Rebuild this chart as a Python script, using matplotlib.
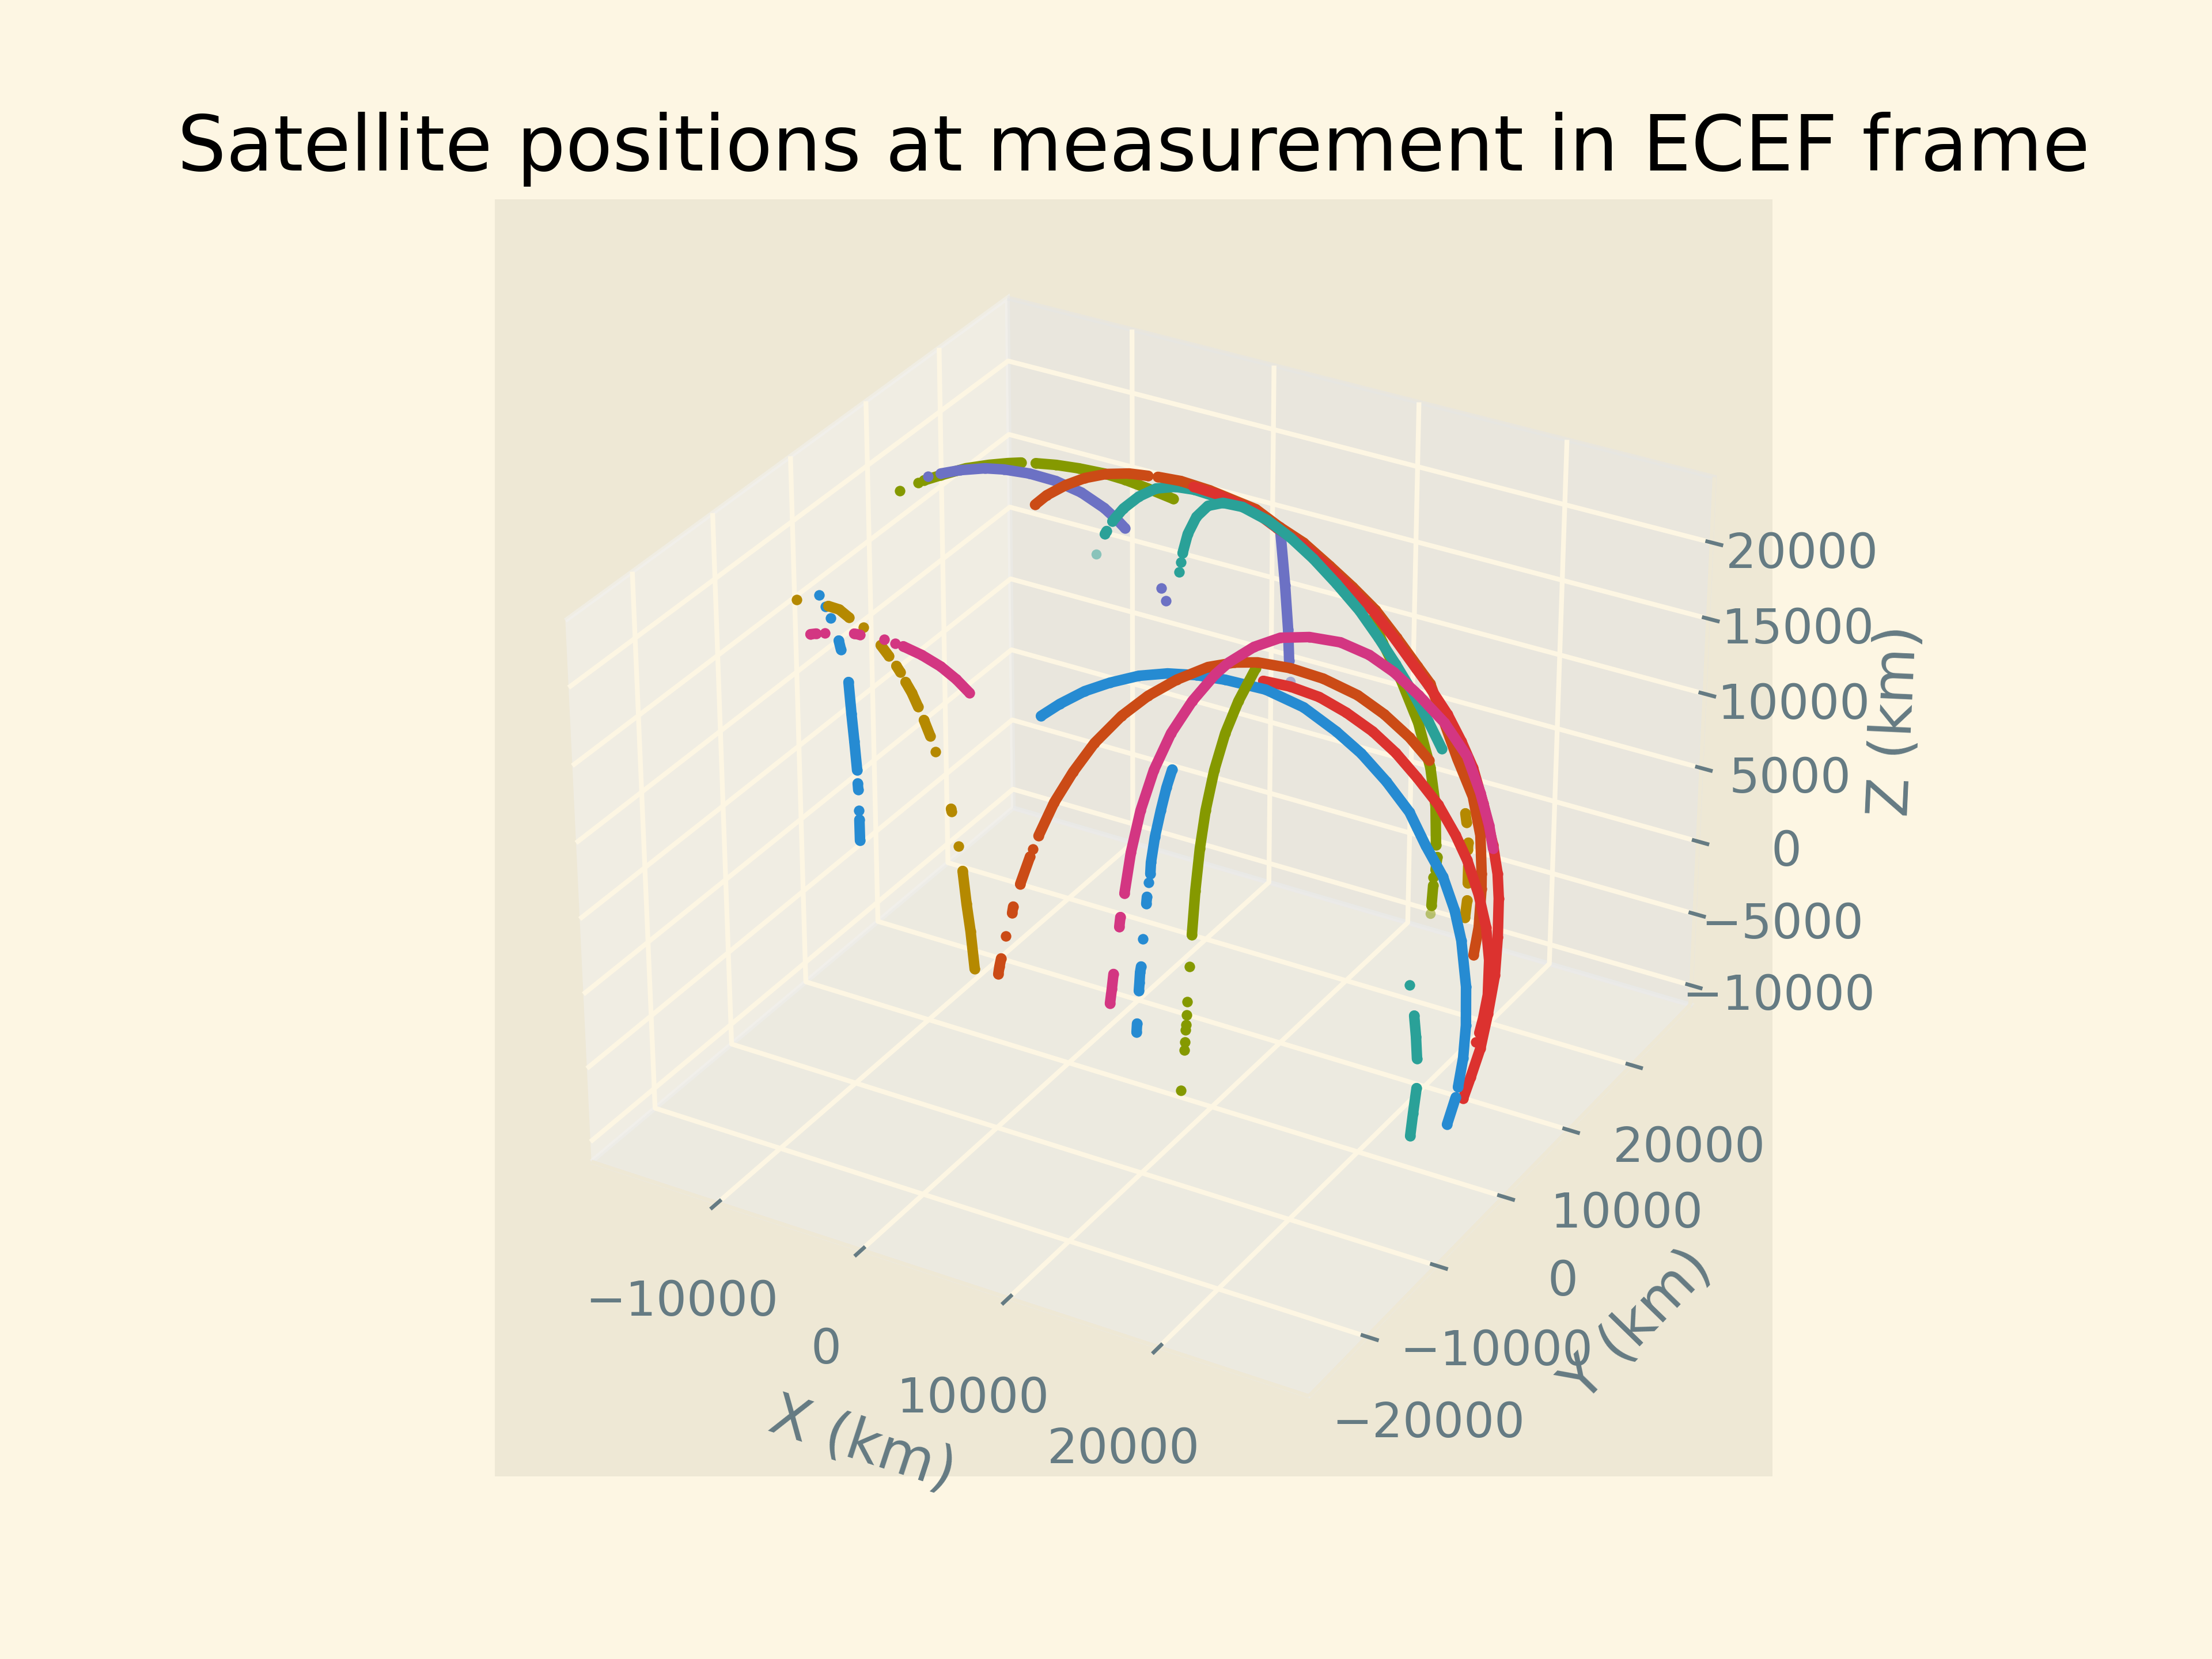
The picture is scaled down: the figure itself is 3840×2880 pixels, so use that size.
import matplotlib
matplotlib.use('Agg')
import matplotlib.pyplot as plt
import numpy as np

plt.style.use('Solarize_Light2')

UNIT_KM = 10  # positions below are in units of 10 km
_ = None      # break between measurement runs

olive_top = [(-1109,-44,2413),_,(-1035,61,2445),_,(-1012,94,2454),(-933,164,2481),(-819,284,2511),(-694,350,2540),
             (-589,400,2559),(-514,431,2570),_,(-421,444,2584),(-292,462,2599),(-142,476,2609),(20,496,2609),
             (161,494,2605),(319,488,2591),(485,497,2563)]
violet_top = [(-1035,191,2438),_,(-959,215,2467),(-840,247,2507),(-675,258,2556),(-534,238,2591),(-342,202,2626),
              (-136,151,2648),(72,78,2654),(274,-19,2642),(399,-93,2624),(473,-141,2610),_,(877,-477,2461),_,(941,-544,2424)]
violet_mid = [(777,1400,2121),(1311,330,2286),(1501,-31,2191),(1606,-239,2102)]
teal_top = [(403,-248,2614),(408,-282,2609),_,(382,-127,2625),(362,62,2631),(349,302,2616),(345,547,2576),
            (375,750,2520),(433,897,2462),(526,1002,2403)]
orange_top = [(-91,-219,2645),(-84,-77,2654),(-56,124,2652),(-20,309,2638),(33,494,2610),(106,662,2570),(183,767,2536)]
olive_right = [(1582,1012,1878),(1728,836,1835),(1928,680,1696),(2103,544,1529),(2259,384,1344),(2366,229,1186),
               (2448,61,1027),_,(2473,27,970),(2492,-38,919),_,(2500,-88,894),_,(2512,-114,855),(2537,-190,763)]
orange_right = [(216,837,2512),(285,1016,2437),(386,1214,2330),(625,1371,2210),(770,1398,2124),(923,1430,2046),
                (1157,1304,2004),(1311,1310,1903),(1429,1395,1751),(1622,1288,1662),(1763,1292,1509),(1777,1457,1335),
                (2075,1025,1303),(2197,929,1167),(2296,952,935),(2406,827,762),(2506,628,618),(2535,564,554),
                (2598,390,390),(2630,248,277)]
yellow_right = [(2385,637,979),(2410,601,940),_,(2460,519,856),(2477,474,834),_,(2510,411,764),(2543,334,691),_,
                (2570,268,613),(2594,186,541)]
red_inner = [(1571,-524,2076),(1684,-388,2017),(1809,-248,1929),(1933,-131,1817),(2055,-15,1683),(2165,81,1537),
             (2269,167,1371),(2364,274,1178),(2447,354,970),(2499,417,796),(2552,484,555),(2579,549,317),
             (2590,584,86),(2584,593,-152),(2591,516,-272),(2595,452,-344),_,(2600,390,-377)]
red_outer = [(384,990,2435),(466,1154,2346),(617,1363,2199),(867,1165,2224),(1000,1239,2126),(1208,1167,2057),
             (1360,1176,1955),(1496,1220,1824),(1665,1167,1709),(1807,1166,1559),(1864,1232,1436),(1907,1433,1178),
             (2015,1407,1039),(2110,1376,902),(2209,1320,714),(2312,1248,496),(2372,1191,344),(2408,1135,212),
             (2449,1040,4),(2480,939,-201),(2519,755,-371),(2491,719,-599),(2474,620,-757),(2459,546,-874)]
teal_long = [(893,-266,2487),_,(861,-175,2507),_,(828,-84,2522),(756,136,2542),(685,404,2534),(631,678,2489),
             (615,922,2414),(628,1174,2298),(755,1263,2211),(955,1166,2187),(1160,1060,2141),(1358,967,2067),
             (1542,905,1964),(1704,830,1861),(1843,780,1746),(1978,742,1610),(2096,713,1467),(2195,697,1324)]
teal_low = [(2566,-553,406),_,(2593,-537,206),(2603,-526,64),(2605,-508,-89),_,(2595,-482,-300),(2569,-467,-485),(2536,-427,-665)]
blue_big = [(636,-1597,2025),(709,-1493,2080),(806,-1361,2134),(911,-1236,2167),(1032,-1096,2188),(1157,-967,2186),
            (1288,-847,2163),(1420,-729,2123),(1603,-558,2043),(1785,-415,1923),(1953,-312,1773),(2080,-232,1636),
            (2213,-155,1460),(2333,-80,1266),(2432,-55,1067),(2514,24,855),(2578,63,638),(2618,85,439),
            (2651,98,137),(2650,114,-128),(2627,138,-366),(2585,169,-588),_,(2562,192,-675),(2479,261,-917)]
olive_mid = [(1707,-1771,1003),(1674,-1658,1227),(1638,-1523,1432),(1605,-1378,1605),(1572,-1193,1777),(1545,-989,1921),
             (1526,-770,2033),(1509,-496,2129),_,(1725,-1839,834),_,(1741,-1902,639),_,(1746,-1920,563),_,
             (1749,-1934,506),_,(1749,-1941,476),_,(1752,-1955,404),_,(1753,-1964,355),_,(1747,-1998,105)]
orange_big = [(833,-2031,1495),(865,-1887,1657),(911,-1728,1799),(965,-1553,1926),(1042,-1349,2037),(1122,-1158,2110),
              (1214,-960,2159),(1316,-748,2183),(1411,-584,2173),(1499,-452,2146),(1632,-278,2077),(1768,-105,1979),
              (1913,75,1841),(2031,203,1700),(2144,326,1533),(2235,417,1373),_,(821,-2083,1429),_,(816,-2110,1391),
              (797,-2204,1249),_,(784,-2272,1130),(785,-2289,1096),_,(772,-2349,970),_,(765,-2399,845),(762,-2416,799),(761,-2430,756)]
magenta_big = [(1345,-1931,1232),(1324,-1802,1433),(1308,-1640,1629),(1302,-1449,1806),(1309,-1233,1954),(1333,-996,2070),
               (1365,-748,2152),(1388,-615,2179),(1440,-377,2199),(1504,-144,2184),(1591,77,2126),(1688,312,2027),
               (1789,510,1896),(1884,664,1750),(1983,817,1567),(2055,1052,1313),(2064,1388,961),(2181,1337,769),
               (2267,1284,600),(2316,1240,478),_,(1351,-1998,1111),(1356,-2023,1060),_,(1369,-2128,806),(1372,-2157,722),(1372,-2182,640)]
blue_mid = [(1385,-1374,1802),(1391,-1463,1726),(1403,-1564,1625),(1416,-1669,1504),(1433,-1757,1383),(1445,-1790,1327),_,
            (1448,-1819,1285),_,(1457,-1860,1213),(1462,-1879,1178),_,(1482,-1966,995),_,(1498,-2023,847),
            (1498,-2036,815),(1503,-2055,758),(1506,-2069,712),_,(1517,-2116,524),(1519,-2127,473)]
blue_left = [(-597,-1702,1949),(-499,-1855,1834),(-419,-1974,1726),(-344,-2086,1608),_,(-316,-2134,1550),(-302,-2155,1522),_,
             (-264,-2224,1428),_,(-246,-2253,1386),(-212,-2314,1287),_,(-1106,-1113,2143),_,(-1007,-1217,2135),_,
             (-923,-1309,2119),_,(-786,-1465,2071),(-741,-1522,2047)]
yellow_left = [(-1277,-1088,2059),_,(-987,-1218,2144),(-890,-1259,2163),(-788,-1324,2163),_,(-653,-1395,2164),_,
               (-480,-1502,2137),(-395,-1560,2113),_,(-320,-1608,2089),(-278,-1638,2072),_,(-220,-1683,2043),
               (-154,-1730,2010),(-83,-1787,1963),_,(-19,-1838,1917),(53,-1897,1858),_,(115,-1952,1798),_,
               (305,-2128,1559),(313,-2136,1547),_,(403,-2228,1389),_,(459,-2287,1271),(519,-2358,1107),
               (569,-2408,966),(623,-2466,765)]
magenta_left = [(-1021,-1389,2020),(-978,-1395,2038),_,(-913,-1404,2062),_,(-697,-1432,2126),(-653,-1441,2134),_,
                (-474,-1468,2162),_,(-390,-1487,2166),_,(-330,-1498,2168),(-190,-1530,2163),(-43,-1568,2144),
                (81,-1608,2112),(191,-1651,2072)]
faint_teal = [(453,-489,2571)]
faint_violet = [(1670,-358,2034)]
faint_olive = [(2545,-223,727)]

BLUE, TEAL, OLIVE, YELLOW = '#268BD2', '#2AA198', '#859900', '#B58900'
ORANGE, RED, MAGENTA, VIOLET = '#CB4B16', '#DC322F', '#D33682', '#6C71C4'

tracks = [(olive_top, OLIVE), (violet_top, VIOLET), (violet_mid, VIOLET), (teal_top, TEAL), (orange_top, ORANGE),
          (olive_right, OLIVE), (orange_right, ORANGE), (yellow_right, YELLOW), (red_inner, RED), (red_outer, RED),
          (teal_long, TEAL), (teal_low, TEAL), (blue_big, BLUE), (olive_mid, OLIVE), (orange_big, ORANGE),
          (magenta_big, MAGENTA), (blue_mid, BLUE), (blue_left, BLUE), (yellow_left, YELLOW), (magenta_left, MAGENTA)]
faint = [(faint_teal, TEAL), (faint_violet, VIOLET), (faint_olive, OLIVE)]


def xyz(track):
    rows = [(np.nan,) * 3 if p is None else p for p in track]
    return (np.array(rows, dtype=float) * UNIT_KM).T


fig = plt.figure(figsize=(6.4, 4.8), dpi=600)
ax = fig.add_subplot(projection='3d', computed_zorder=False)
for track, color in faint:
    ax.plot(*xyz(track), 'o', ms=2.1, mew=0, color=color, alpha=0.5)
for track, color in tracks:
    ax.plot(*xyz(track), '-o', lw=2.2, ms=2.2, mew=0, color=color,
            solid_capstyle='round', solid_joinstyle='round')
ax.set_xlim(-18950, 29750)
ax.set_ylim(-28100, 29600)
ax.set_zlim(-11360, 24240)
for a in (ax.xaxis, ax.yaxis, ax.zaxis):
    a._axinfo['grid']['linewidth'] = 1.0
ax.set_xlabel('X (km)')
ax.set_ylabel('Y (km)')
ax.set_zlabel('Z (km)')
ax.set_title('Satellite positions at measurement in ECEF frame')
fig.savefig('out.png')
